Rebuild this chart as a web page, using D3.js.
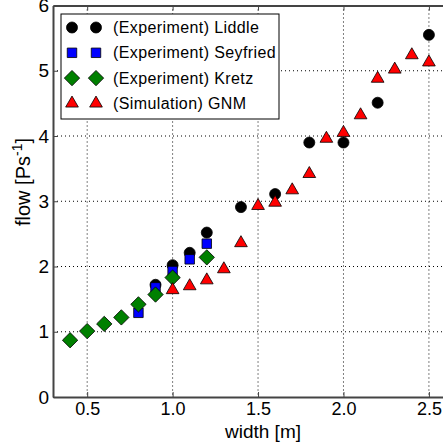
<!DOCTYPE html>
<html lang="en">
  <head>
    <meta charset="UTF-8" />
    <title>Flow vs width</title>
    <script src="https://d3js.org/d3.v7.min.js"></script>
    <style>
      body {
        margin: 0;
        background: #fff;
        font-family: "Liberation Sans", Arial, sans-serif;
      }
      .grid line {
        stroke: #000;
        stroke-width: 1;
        stroke-dasharray: 1, 3;
      }
      .axis text {
        font-size: 18px;
        fill: #000;
      }
    </style>
  </head>
  <body>
    <svg width="443" height="444"></svg>

    <script>
      // data
      const liddleW = [0.9, 1.0, 1.1, 1.2, 1.4, 1.6, 1.8, 2.0, 2.2, 2.5];
      const liddleF = [1.72, 2.02, 2.21, 2.52, 2.91, 3.11, 3.9, 3.9, 4.51, 5.55];

      const seyfriedW = [0.8, 0.9, 1.0, 1.1, 1.2];
      const seyfriedF = [1.29, 1.68, 1.93, 2.11, 2.35];

      const kretzW = [0.4, 0.5, 0.6, 0.7, 0.8, 0.9, 1.0, 1.2];
      const kretzF = [0.87, 1.01, 1.12, 1.22, 1.42, 1.57, 1.83, 2.14];

      const gnmW = [1.0, 1.1, 1.2, 1.3, 1.4, 1.5, 1.6, 1.7, 1.8, 1.9, 2.0, 2.1, 2.2, 2.3, 2.4, 2.5];
      const gnmF = [1.64, 1.7, 1.79, 1.96, 2.36, 2.93, 2.98, 3.17, 3.42, 3.96, 4.05, 4.32, 4.88, 5.02, 5.24, 5.13];

      const xTicks = [0.5, 1.0, 1.5, 2.0, 2.5];
      const yTicks = [0, 1, 2, 3, 4, 5, 6];

      const series = [
        {name: "(Experiment) Liddle", w: liddleW, f: liddleF, shape: d3.symbolCircle, size: 95, fill: "#000"},
        {name: "(Experiment) Seyfried", w: seyfriedW, f: seyfriedF, shape: d3.symbolSquare, size: 90, fill: "#0000ff"},
        {name: "(Experiment) Kretz", w: kretzW, f: kretzF, shape: d3.symbolDiamond2, size: 150, fill: "#008000"},
        {name: "(Simulation) GNM", w: gnmW, f: gnmF, shape: d3.symbolTriangle, size: 70, fill: "#ff0000"},
      ];

      const svg = d3.select("svg");
      const mLeft = 53, mRight = 446, mTop = 5.5, mBottom = 397;

      const x = d3.scaleLinear().domain([0.3, 2.6]).range([mLeft, mRight]);
      const y = d3.scaleLinear().domain([0, 6]).range([mBottom, mTop]);

      // grid
      const grid = svg.append("g").attr("class", "grid");
      grid.append("g").selectAll("line")
        .data(xTicks)
        .join("line")
        .attr("x1", (d) => x(d)).attr("x2", (d) => x(d))
        .attr("y1", mTop).attr("y2", mBottom);
      grid.append("g").selectAll("line")
        .data(yTicks.filter((d) => d > 0 && d < 6))
        .join("line")
        .attr("x1", mLeft).attr("x2", mRight)
        .attr("y1", (d) => y(d)).attr("y2", (d) => y(d));

      // axes
      svg.append("g")
        .attr("class", "axis")
        .attr("transform", `translate(0,${mBottom})`)
        .call(d3.axisBottom(x).tickValues(xTicks).tickFormat(d3.format(".1f")).tickSizeInner(-5).tickSizeOuter(0).tickPadding(5));
      svg.append("g")
        .attr("transform", `translate(0,${mTop})`)
        .call(d3.axisTop(x).tickValues(xTicks).tickFormat("").tickSizeInner(-5).tickSizeOuter(0));
      svg.append("g")
        .attr("class", "axis")
        .attr("transform", `translate(${mLeft},0)`)
        .call(d3.axisLeft(y).tickValues(yTicks).tickFormat(d3.format("d")).tickSizeInner(-5).tickSizeOuter(0).tickPadding(4))
        .selectAll("text")
        .style("font-size", "19px");

      svg.selectAll(".domain").attr("stroke", "#444").attr("stroke-width", 2);
      svg.selectAll(".tick line").attr("stroke", "#444");

      // axis labels
      svg.append("text")
        .attr("x", 263)
        .attr("y", 438)
        .attr("text-anchor", "middle")
        .style("font-size", "19px")
        .text("width [m]");

      const yl = svg.append("text")
        .attr("transform", "translate(30,182) rotate(-90)")
        .attr("text-anchor", "middle")
        .style("font-size", "20px");
      yl.append("tspan").text("flow [Ps");
      yl.append("tspan").attr("dy", -8).style("font-size", "14px").text("-1");
      yl.append("tspan").attr("dy", 8).text("]");

      // points
      series.forEach((s) => {
        const sym = d3.symbol().type(s.shape).size(s.size);
        svg.append("g")
          .selectAll("path")
          .data(s.w.map((w, i) => ({w: w, f: s.f[i]})))
          .join("path")
          .attr("transform", (d) => `translate(${x(d.w)},${y(d.f)})`)
          .attr("d", sym)
          .attr("fill", s.fill)
          .attr("stroke", "#000")
          .attr("stroke-width", 0.8);
      });

      // legend
      const lg = svg.append("g").attr("transform", "translate(61,14)");
      lg.append("rect")
        .attr("width", 218).attr("height", 105)
        .attr("fill", "#fff").attr("stroke", "#000").attr("stroke-width", 1);
      series.forEach((s, i) => {
        const row = lg.append("g").attr("transform", `translate(0,${13.5 + i * 25.3})`);
        const sym = d3.symbol().type(s.shape).size(s.size);
        [11, 35].forEach((mx) => {
          row.append("path")
            .attr("transform", `translate(${mx},0)`)
            .attr("d", sym)
            .attr("fill", s.fill)
            .attr("stroke", "#000")
            .attr("stroke-width", 0.8);
        });
        row.append("text")
          .attr("x", 52)
          .attr("dy", "0.35em")
          .style("font-size", "16px")
          .style("letter-spacing", "0.4px")
          .text(s.name);
      });
    </script>
  </body>
</html>
